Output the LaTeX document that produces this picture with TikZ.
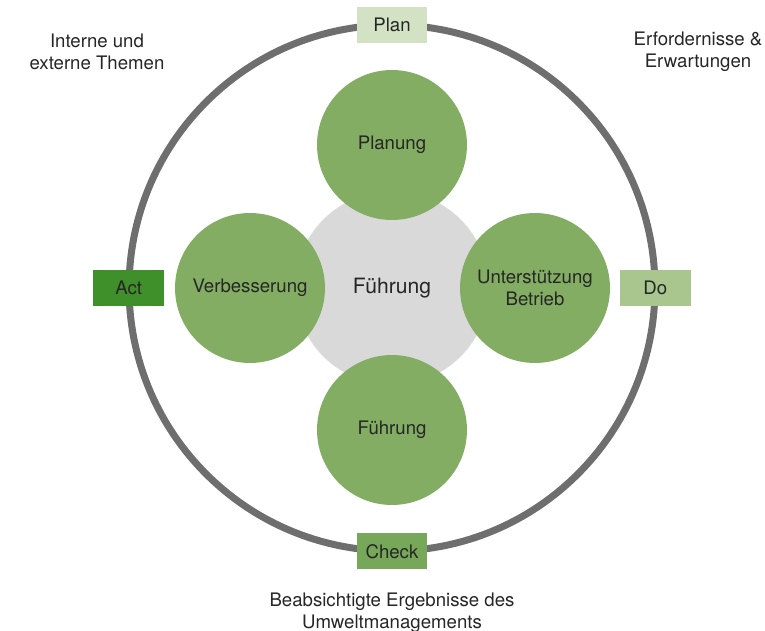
\documentclass[tikz,border=0pt]{standalone}
\usepackage{fontspec}
\setmainfont{TeX Gyre Heros}
\usetikzlibrary{positioning, shapes.geometric}

\definecolor{ringgray}{HTML}{6E6E6E}
\definecolor{coregray}{HTML}{D9D9D9}
\definecolor{leafgreen}{HTML}{82AD62}
\definecolor{plangreen}{HTML}{D3E2C4}
\definecolor{dogreen}{HTML}{A8C68E}
\definecolor{checkgreen}{HTML}{77A859}
\definecolor{actgreen}{HTML}{3F8F2A}
\definecolor{textdark}{HTML}{262626}

\begin{document}
\begin{tikzpicture}[
    x=0.02cm, y=-0.02cm,
    every node/.style={align=center, font=\fontsize{10.6}{12.5}\selectfont, text=textdark},
    ring/.style={draw=ringgray, line width=0.14cm},
    core/.style={circle, fill=coregray, minimum size=3.88cm, inner sep=0pt},
    topic/.style={circle, fill=leafgreen, minimum size=3cm, inner sep=0pt},
    phase/.style={rectangle, minimum width=1.42cm, minimum height=0.72cm, inner sep=0pt, font=\fontsize{10.6}{12}\selectfont},
    context/.style={font=\fontsize{10.6}{12.5}\selectfont}
]
\useasboundingbox (0,0) rectangle (765,631);

% --- Aeusserer Kreis (PDCA)
\node[circle, minimum size=10.52cm, inner sep=0pt] (zyklus) at (392,288) {};
\draw[ring] (zyklus.center) circle (5.26cm);

% --- Mitte
\node[core, font=\fontsize{12}{14}\selectfont] (fuehrung) at (392,288) {Führung};

% --- Themenkreise
\node[topic] (planung) at (392,145) {Planung};
\node[topic] (verbesserung) at (250,288) {Verbesserung};
\node[topic] (betrieb) at (535,288) {Unterstützung\\Betrieb};
\node[topic] (bewertung) at (392,430) {Führung};

% --- PDCA-Phasen auf dem Ring
\node[phase, fill=plangreen] (plan) at (zyklus.north) {Plan};
\node[phase, fill=dogreen] (do) at (zyklus.east) {Do};
\node[phase, fill=checkgreen] (check) at (zyklus.south) {Check};
\node[phase, fill=actgreen] (act) at (zyklus.west) {Act};

% --- Kontext
\node[context] (themen) at (97,52) {Interne und\\externe Themen};
\node[context] (erwartungen) at (698,52) {Erfordernisse \&\\Erwartungen};
\node[context] (ergebnisse) at (392,613) {Beabsichtigte Ergebnisse des\\Umweltmanagements};

\end{tikzpicture}
\end{document}
